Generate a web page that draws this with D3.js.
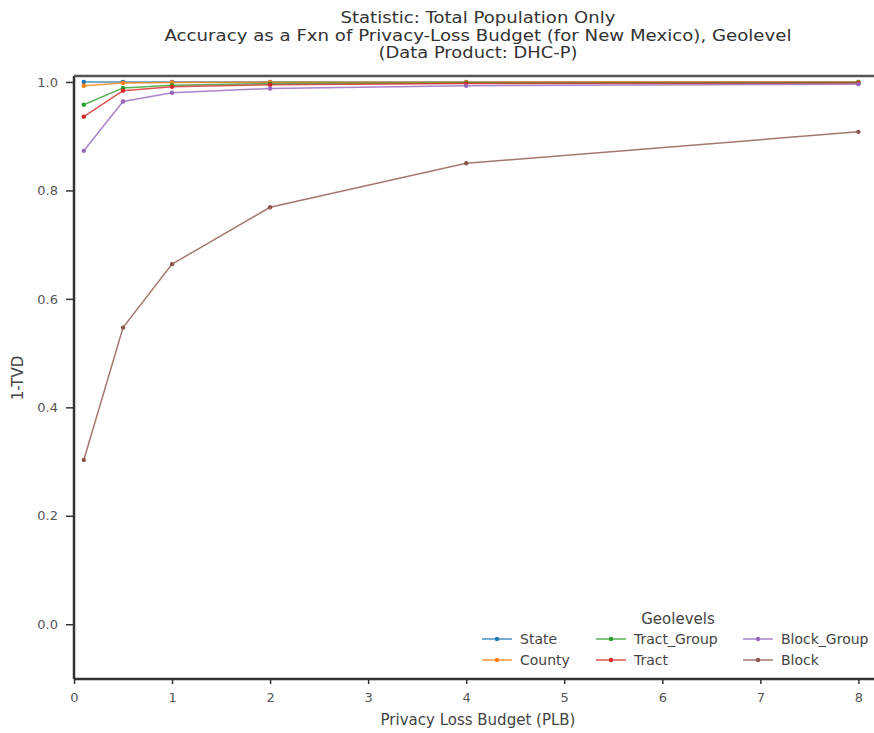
<!DOCTYPE html>
<html>
<head>
<meta charset="utf-8">
<script src="https://cdn.jsdelivr.net/npm/d3@7"></script>
<style>
  body { margin: 0; background: #fff; overflow: hidden; }
  text { font-family: "DejaVu Sans", sans-serif; }
</style>
</head>
<body>
<div id="chart"></div>
<script>
// privacy-loss budgets on x
const plb = [0.1, 0.5, 1, 2, 4, 8];
const geolevels = ["State", "County", "Tract_Group", "Tract", "Block_Group", "Block"];
const geoColors = ["#1f77b4", "#ff7f0e", "#2ca02c", "#d62728", "#9467bd", "#8c564b"];

const stateVals = [0.9999, 1.0, 1.0, 1.0, 1.0, 1.0];
const countyVals = [0.993, 0.998, 0.999, 0.9995, 0.9997, 0.9998];
const tractGroupVals = [0.958, 0.989, 0.994, 0.997, 0.998, 0.999];
const tractVals = [0.936, 0.984, 0.991, 0.995, 0.997, 0.998];
const blockGroupVals = [0.873, 0.964, 0.980, 0.988, 0.993, 0.996];
const blockVals = [0.303, 0.547, 0.664, 0.769, 0.850, 0.908];

const yTicks = [0.0, 0.2, 0.4, 0.6, 0.8, 1.0];
const xTicks = [0, 1, 2, 3, 4, 5, 6, 7, 8];

const series = [stateVals, countyVals, tractGroupVals, tractVals, blockGroupVals, blockVals];

const W = 874, H = 733;
const pLeft = 74, pTop = 76, pRight = 878, pBottom = 679;

const svg = d3.select('#chart').append('svg')
  .attr('width', W)
  .attr('height', H)
  .style('display', 'block');

const x = d3.scaleLinear().domain([0, 8.2]).range([pLeft, pRight]);
const y = d3.scaleLinear().domain([-0.101, 1.011]).range([pBottom, pTop]);

// title (the picture is a bit wider than tall, so widths are set per line)
const titleLines = [
  "Statistic: Total Population Only",
  "Accuracy as a Fxn of Privacy-Loss Budget (for New Mexico), Geolevel",
  "(Data Product: DHC-P)"
];
const titleWidths = [275, 627, 199];
svg.append('g').selectAll('text')
  .data(titleLines)
  .enter()
  .append('text')
  .attr('x', 478)
  .attr('y', (d, i) => 23 + i * 17.5)
  .attr('text-anchor', 'middle')
  .attr('font-size', '15px')
  .attr('textLength', (d, i) => titleWidths[i])
  .attr('lengthAdjust', 'spacingAndGlyphs')
  .attr('fill', '#333')
  .text(d => d);

// axes
const xAxis = svg.append('g')
  .attr('transform', `translate(0,${pBottom})`)
  .call(d3.axisBottom(x).tickValues(xTicks).tickSize(5).tickPadding(9).tickFormat(d3.format('d')));
const yAxis = svg.append('g')
  .attr('transform', `translate(${pLeft},0)`)
  .call(d3.axisLeft(y).tickValues(yTicks).tickSize(8).tickPadding(8).tickFormat(d3.format('.1f')));

[xAxis, yAxis].forEach(a => {
  a.select('.domain').remove();
  a.selectAll('line').attr('stroke', '#333').attr('stroke-width', 1.5);
  a.selectAll('text').attr('font-size', '13px').attr('fill', '#555').attr('font-family', 'DejaVu Sans');
});

// spines
svg.append('line').attr('x1', pLeft).attr('x2', pRight).attr('y1', pBottom).attr('y2', pBottom)
  .attr('stroke', '#333').attr('stroke-width', 2.5);
svg.append('line').attr('x1', pLeft).attr('x2', pLeft).attr('y1', pTop).attr('y2', pBottom)
  .attr('stroke', '#333').attr('stroke-width', 2.5);
svg.append('line').attr('x1', pLeft).attr('x2', pRight).attr('y1', pTop).attr('y2', pTop)
  .attr('stroke', '#555').attr('stroke-width', 2.5);

// axis labels
svg.append('text')
  .attr('x', 478).attr('y', 725)
  .attr('text-anchor', 'middle')
  .attr('font-size', '15px').attr('fill', '#444')
  .text('Privacy Loss Budget (PLB)');
svg.append('text')
  .attr('transform', 'translate(23,378) rotate(-90)')
  .attr('text-anchor', 'middle')
  .attr('font-size', '15px').attr('fill', '#444')
  .text('1-TVD');

// lines
const lineFunction = d3.line()
  .x((d, i) => x(plb[i]))
  .y(d => y(d));

const lines = svg.append('g').attr('id', 'lines');
series.forEach((vals, k) => {
  lines.append('path').datum(vals)
    .attr('d', lineFunction)
    .attr('fill', 'none')
    .attr('stroke', geoColors[k])
    .attr('stroke-width', 1.5)
    .attr('stroke-opacity', 0.8);
  lines.selectAll('circle.s' + k)
    .data(vals)
    .enter()
    .append('circle')
    .attr('class', 's' + k)
    .attr('cx', (d, i) => x(plb[i]))
    .attr('cy', d => y(d))
    .attr('r', 2.2)
    .attr('fill', geoColors[k]);
});

// legend
const legend = svg.append('g').attr('id', 'legend');
legend.append('text')
  .attr('x', 678).attr('y', 624)
  .attr('text-anchor', 'middle')
  .attr('font-size', '15px').attr('fill', '#444')
  .text('Geolevels');

const colX = [482, 596, 743];
geolevels.forEach((name, k) => {
  const cx = colX[Math.floor(k / 2)];
  const cy = 639 + (k % 2) * 21;
  legend.append('line')
    .attr('x1', cx).attr('x2', cx + 30)
    .attr('y1', cy).attr('y2', cy)
    .attr('stroke', geoColors[k]).attr('stroke-width', 1.5)
    .attr('stroke-opacity', 0.8);
  legend.append('circle')
    .attr('cx', cx + 15).attr('cy', cy).attr('r', 2.2)
    .attr('fill', geoColors[k]);
  legend.append('text')
    .attr('x', cx + 38).attr('y', cy + 5)
    .attr('font-size', '14px').attr('fill', '#444')
    .text(name);
});
</script>
</body>
</html>
